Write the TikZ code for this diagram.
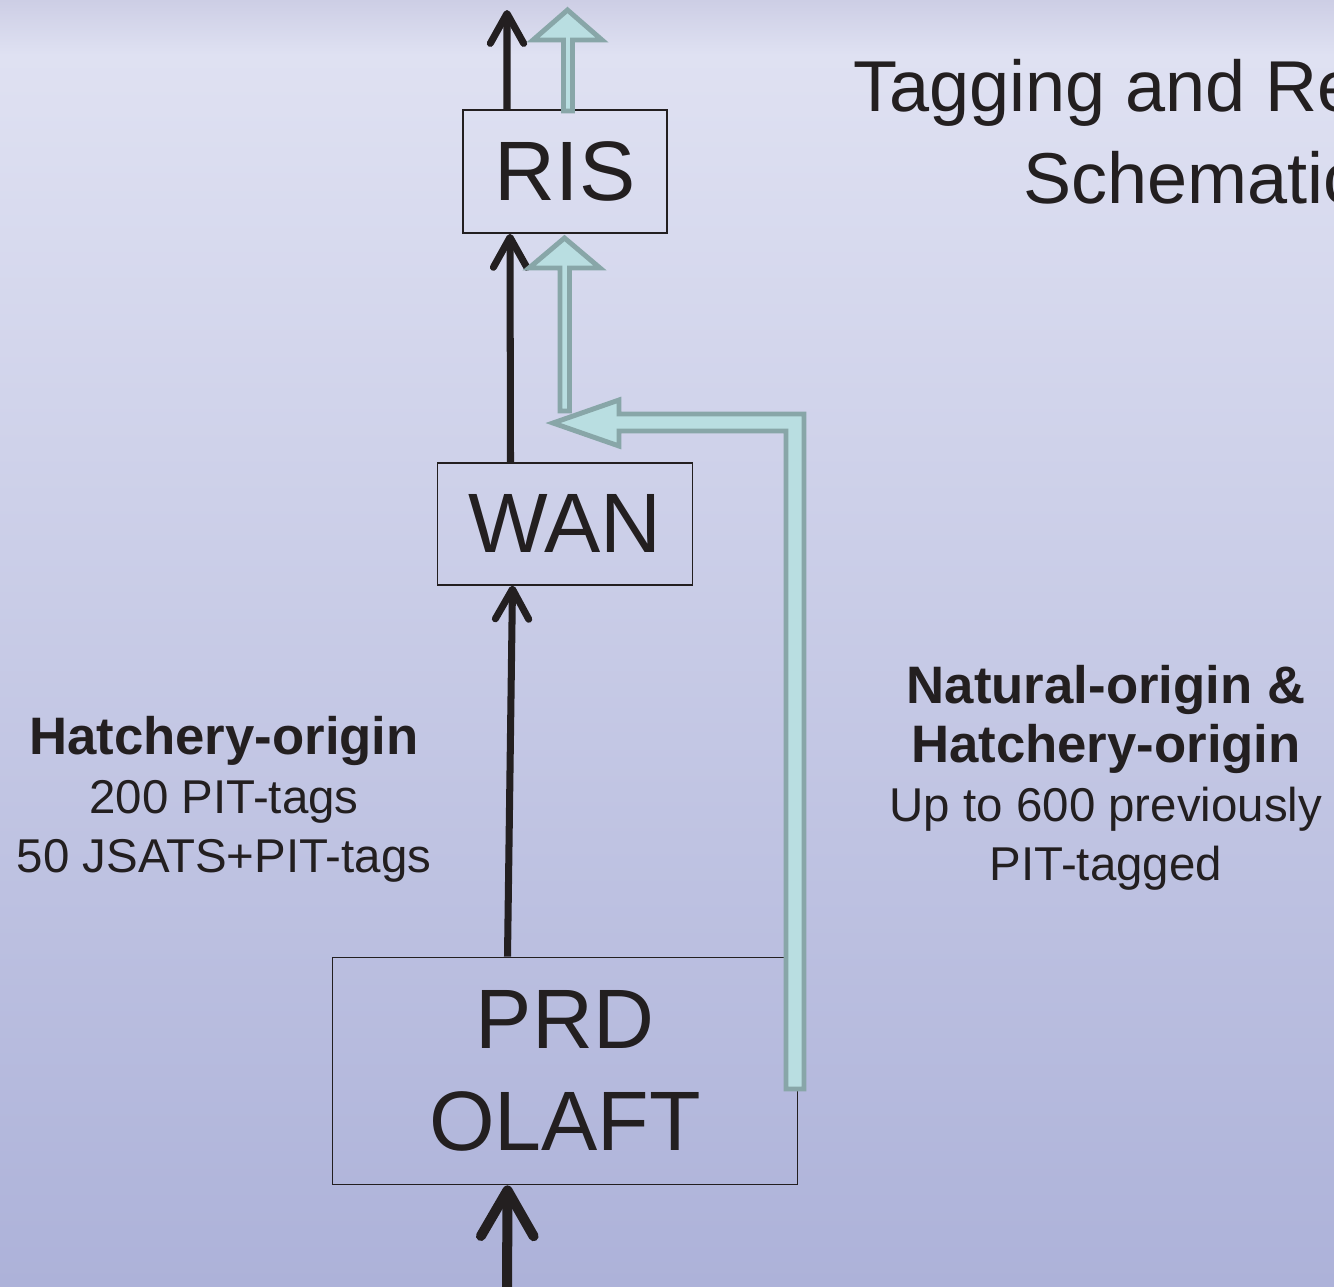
\documentclass[tikz,border=0pt]{standalone}
\usepackage{fontspec}
\setmainfont{Liberation Sans}
\usetikzlibrary{arrows.meta, positioning, calc}
\definecolor{bgEdge}{HTML}{CDCEE5}
\definecolor{bgTop}{HTML}{DFE1F2}
\definecolor{bgBottom}{HTML}{ADB2D9}
\definecolor{inkDark}{HTML}{231F20}
\definecolor{passFill}{HTML}{B9DEE1}
\definecolor{passEdge}{HTML}{88A6A8}
\tikzset{
  site/.style={
    draw=inkDark, line width=1pt, inner sep=0pt, align=center, text=inkDark,
    font=\fontsize{48}{58}\selectfont
  },
  route/.style={-{Straight Barb[length=17pt, width=19pt, round]}, line width=4pt, inkDark},
  bigroute/.style={-{Straight Barb[length=26pt, width=30pt, round]}, line width=5.7pt, inkDark},
  pass/.style={fill=passFill, draw=passEdge, line width=2.8pt, line join=miter},
  note/.style={align=center, text=inkDark, inner sep=0pt, font=\fontsize{27}{33.5}\selectfont},
  heading/.style={align=center, text=inkDark, inner sep=0pt, font=\fontsize{41}{52}\selectfont}
}
\begin{document}
\begin{tikzpicture}[x=0.2mm, y=-0.2mm]
  \useasboundingbox (0,0) rectangle (1334,1286);
  \clip (0,0) rectangle (1334,1286);
  % background
  \fill[top color=bgEdge, bottom color=bgTop] (0,0) rectangle (1334,55);
  \fill[top color=bgTop, bottom color=bgBottom] (0,55) rectangle (1334,1286);

  % sites
  \node[site, minimum width=40.8mm, minimum height=24.6mm] (ris) at (565,171.5) {RIS};
  \node[site, minimum width=51mm, minimum height=24.4mm, below=45.6mm of ris] (wan) {WAN};
  \node[site, minimum width=93mm, minimum height=45.4mm, below=74.2mm of wan] (prd) {PRD\\OLAFT};

  \coordinate (exit) at (507,10);
  \coordinate (entry) at (507,1300);

  % black paths
  \draw[route] ([xshift=-11.6mm]ris.north) -- (exit);
  \draw[route] ([xshift=-10.9mm]wan.north) -- ([xshift=-11mm]ris.south);
  \draw[route] ([xshift=-11.5mm]prd.north) -- ([xshift=-10.5mm]wan.south);
  \draw[bigroute] (entry) -- ([xshift=-11.5mm]prd.south);

  % bypass arrows
  \path[pass] (786,1089) -- (786,431) -- (619,431) -- (619,446) -- (553,423)
    -- (619,400) -- (619,414) -- (804,414) -- (804,1089) -- cycle;
  \path[pass] (560,411) -- (560,268) -- (529,268) -- (564.5,238) -- (600,268)
    -- (569.5,268) -- (569.5,411) -- cycle;
  \path[pass] (563.5,111) -- (563.5,40) -- (533,40) -- (567.5,10) -- (602,40)
    -- (572.5,40) -- (572.5,111) -- cycle;

  % labels
  \node[heading, anchor=base west] (title) at (853,203) {Tagging and Release\\Schematic};
  \node[note, anchor=base] (hatch) at (224,872)
    {{\fontsize{30}{33.5}\selectfont\bfseries Hatchery-origin}\\200 PIT-tags\\50 JSATS+PIT-tags};
  \node[note, anchor=base] (mixed) at (1106,880)
    {{\fontsize{30}{33.5}\selectfont\bfseries Natural-origin \&}\\{\fontsize{30}{33.5}\selectfont\bfseries Hatchery-origin}\\Up to 600 previously\\PIT-tagged};
\end{tikzpicture}
\end{document}
